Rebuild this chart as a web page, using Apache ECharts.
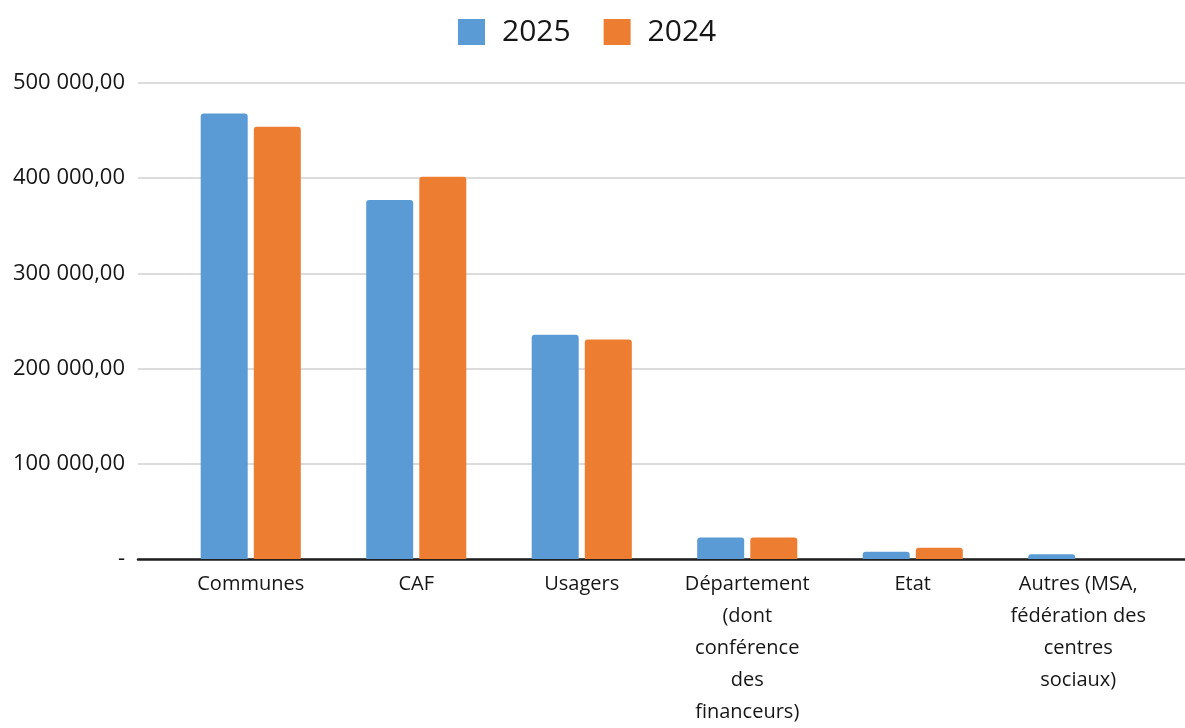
<!DOCTYPE html>
<html>
<head>
<meta charset="utf-8">
<script src="https://cdn.jsdelivr.net/npm/echarts@6/dist/echarts.min.js"></script>
<style>
  html, body { margin: 0; padding: 0; background: #ffffff; }
  #chart { width: 1185px; height: 728px; }
</style>
</head>
<body>
<div id="chart"></div>
<script>
// Financeurs et montants par année
const categories = [
  'Communes',
  'CAF',
  'Usagers',
  'Département\n(dont\nconférence\ndes\nfinanceurs)',
  'Etat',
  'Autres (MSA,\nfédération des\ncentres\nsociaux)'
];
const seriesNames = ['2025', '2024'];
const values2025 = [468000, 377000, 235500, 22500, 7500, 5000];
const values2024 = [454000, 401500, 230500, 22500, 11800, 0];
const yMin = 0;
const yMax = 500000;
const yStep = 100000;

const colors = ['#5B9BD5', '#ED7D31'];
const font = '"Open Sans", "Liberation Sans", sans-serif';

// "500 000,00" style, with a dash for zero
function fmt(v) {
  if (v === 0) return '-';
  const s = String(Math.round(v)).replace(/\B(?=(\d{3})+(?!\d))/g, ' ');
  return s + ',00';
}

const chart = echarts.init(document.getElementById('chart'), null, { renderer: 'canvas' });
chart.setOption({
  backgroundColor: '#ffffff',
  animation: false,
  color: colors,
  legend: {
    data: seriesNames,
    top: 12,
    left: 453,
    itemWidth: 27,
    itemHeight: 26,
    itemGap: 33,
    icon: 'rect',
    textStyle: { fontFamily: font, fontSize: 30, color: '#161616', padding: [0, 0, 0, 12] }
  },
  grid: [
    // full-width frame: value labels, gridlines, baseline
    { left: 138, right: 0, top: 83, bottom: 169 },
    // bars and category labels
    { left: 168, right: 24, top: 83, bottom: 169 }
  ],
  xAxis: [
    {
      gridIndex: 0, type: 'value', min: 0, max: 1,
      axisLine: { show: true, lineStyle: { color: '#1f1f1f', width: 2.5 } },
      axisTick: { show: false }, axisLabel: { show: false }, splitLine: { show: false }
    },
    {
      gridIndex: 1, type: 'category', data: categories,
      axisLine: { show: false }, axisTick: { show: false },
      axisLabel: {
        interval: 0, margin: 9, fontFamily: font, fontSize: 20, lineHeight: 32,
        color: '#161616', align: 'center'
      }
    }
  ],
  yAxis: [
    {
      gridIndex: 0, type: 'value', min: yMin, max: yMax, interval: yStep,
      axisLine: { show: false }, axisTick: { show: false },
      axisLabel: { formatter: fmt, margin: 13, fontFamily: font, fontSize: 22, color: '#161616' },
      splitLine: { lineStyle: { color: '#d0d0d0', width: 1.5 } }
    },
    {
      gridIndex: 1, type: 'value', min: yMin, max: yMax, interval: yStep,
      show: false
    }
  ],
  series: [
    {
      name: seriesNames[0], type: 'bar', xAxisIndex: 1, yAxisIndex: 1,
      data: values2025, barWidth: 47, barGap: '13%',
      itemStyle: { color: colors[0], borderRadius: [3, 3, 0, 0] }
    },
    {
      name: seriesNames[1], type: 'bar', xAxisIndex: 1, yAxisIndex: 1,
      data: values2024, barWidth: 47, barGap: '13%',
      itemStyle: { color: colors[1], borderRadius: [3, 3, 0, 0] }
    }
  ]
});
</script>
</body>
</html>
